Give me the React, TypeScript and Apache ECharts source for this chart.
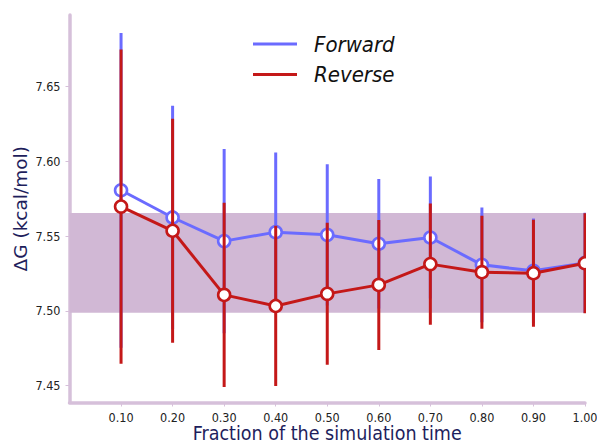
import React, { useEffect, useRef } from "react";
import * as echarts from "echarts";

const fractions = [0.1, 0.2, 0.3, 0.4, 0.5, 0.6, 0.7, 0.8, 0.9, 1.0];
const forwardDG = [7.5807, 7.5625, 7.5467, 7.5527, 7.5509, 7.5449, 7.5491, 7.5308, 7.5268, 7.5321];
const forwardErr = [0.1053, 0.0748, 0.0616, 0.0533, 0.0473, 0.0433, 0.0408, 0.0384, 0.035, 0.0335];
const reverseDG = [7.5698, 7.5536, 7.5107, 7.5033, 7.5114, 7.5174, 7.5313, 7.5259, 7.5252, 7.5319];
const reverseErr = [0.1051, 0.075, 0.0616, 0.0536, 0.0475, 0.0435, 0.0405, 0.0378, 0.0358, 0.0335];
const bandRange = [7.4988, 7.5655];
const yTicks = [7.45, 7.5, 7.55, 7.6, 7.65];
const seriesNames = ["Forward", "Reverse"];

const BLUE = "#6b6bff";
const RED = "#c41818";
const SPINE = "#d6c0da";
const BAND = "#d1b8d5";
const NAVY = "#1e1e5c";
const COND = "'DejaVu Sans Condensed', 'DejaVu Sans', sans-serif";

function makeSeries(name: string, values: number[], errs: number[], color: string, z: number) {
  return {
    type: "custom",
    name,
    z,
    clip: true,
    itemStyle: { color },
    data: fractions.map((f, i) => [f, values[i], errs[i]]),
    renderItem: (params: any, api: any) => {
      const i = params.dataIndex;
      const x = api.value(0);
      const y = api.value(1);
      const e = api.value(2);
      const p = api.coord([x, y]);
      const top = api.coord([x, y + e]);
      const bot = api.coord([x, y - e]);
      const children: any[] = [
        {
          type: "line",
          z2: 0,
          shape: { x1: top[0], y1: top[1], x2: bot[0], y2: bot[1] },
          style: { stroke: color, lineWidth: 3 },
        },
      ];
      if (i < fractions.length - 1) {
        const q = api.coord([fractions[i + 1], values[i + 1]]);
        children.push({
          type: "line",
          z2: 1,
          shape: { x1: p[0], y1: p[1], x2: q[0], y2: q[1] },
          style: { stroke: color, lineWidth: 3 },
        });
      }
      children.push({
        type: "circle",
        z2: 2,
        shape: { cx: p[0], cy: p[1], r: 6 },
        style: { fill: "#ffffff", stroke: color, lineWidth: 2.6 },
      });
      return { type: "group", children };
    },
  };
}

export default function App() {
  const ref = useRef<HTMLDivElement>(null);
  useEffect(() => {
    if (!ref.current) return;
    const chart = echarts.init(ref.current, null, { renderer: "svg" });
    chart.setOption({
      animation: false,
      backgroundColor: "#ffffff",
      grid: {
        left: 69.5,
        right: 12,
        top: 15,
        bottom: 38.5,
        containLabel: false,
        outerBoundsMode: "none",
      },
      legend: {
        data: seriesNames,
        orient: "vertical",
        left: 253,
        top: 33,
        padding: 0,
        icon: "rect",
        itemWidth: 44,
        itemHeight: 3,
        itemGap: 8.5,
        textStyle: {
          fontFamily: COND,
          fontStyle: "italic",
          fontSize: 22,
          lineHeight: 22,
          color: "#111111",
          padding: [0, 0, 0, 12],
        },
      },
      xAxis: {
        type: "value",
        min: 0,
        max: 1,
        name: "Fraction of the simulation time",
        nameLocation: "middle",
        nameGap: 21,
        nameMoveOverlap: false,
        nameTextStyle: { fontFamily: COND, fontSize: 19.5, color: NAVY },
        axisLine: { show: true, lineStyle: { color: SPINE, width: 3.5 } },
        axisTick: {
          show: true,
          customValues: fractions,
          length: 4,
          lineStyle: { color: SPINE, width: 1 },
        },
        axisLabel: {
          customValues: fractions,
          formatter: (v: number) => v.toFixed(2),
          margin: 8,
          fontFamily: COND,
          fontSize: 12.5,
          color: "#222222",
        },
        splitLine: { show: false },
      },
      yAxis: {
        type: "value",
        min: 7.4387,
        max: 7.698,
        name: "ΔG (kcal/mol)",
        nameLocation: "middle",
        nameGap: 40,
        nameMoveOverlap: false,
        nameTextStyle: { fontFamily: "'DejaVu Sans', sans-serif", fontSize: 18.5, color: NAVY },
        axisLine: { show: true, lineStyle: { color: SPINE, width: 3.5 } },
        axisTick: {
          show: true,
          customValues: yTicks,
          length: 4,
          lineStyle: { color: SPINE, width: 1 },
        },
        axisLabel: {
          customValues: yTicks,
          formatter: (v: number) => v.toFixed(2),
          margin: 9,
          fontFamily: COND,
          fontSize: 12.5,
          color: "#222222",
        },
        splitLine: { show: false },
      },
      series: [
        {
          type: "custom",
          z: 1,
          silent: true,
          data: [[0, bandRange[0], 1, bandRange[1]]],
          renderItem: (_p: any, api: any) => {
            const a = api.coord([api.value(0), api.value(3)]);
            const b = api.coord([api.value(2), api.value(1)]);
            return {
              type: "rect",
              shape: { x: a[0], y: a[1], width: b[0] - a[0], height: b[1] - a[1] },
              style: { fill: BAND },
            };
          },
        },
        makeSeries(seriesNames[0], forwardDG, forwardErr, BLUE, 2),
        makeSeries(seriesNames[1], reverseDG, reverseErr, RED, 3),
      ],
    });
    return () => chart.dispose();
  }, []);
  return (
    <div
      ref={ref}
      style={{ position: "absolute", left: 0, top: 0, width: 597, height: 441 }}
    />
  );
}
